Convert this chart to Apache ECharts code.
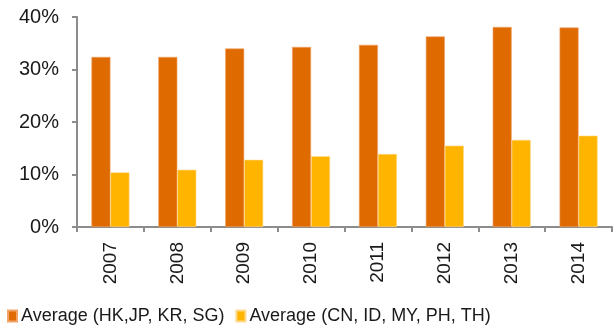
<!DOCTYPE html>
<html>
<head>
<meta charset="utf-8">
<script src="https://cdn.jsdelivr.net/npm/echarts@6/dist/echarts.min.js"></script>
<style>
  html, body { margin: 0; padding: 0; background: #fff; }
  #chart { width: 616px; height: 327px; }
</style>
</head>
<body>
<div id="chart"></div>
<script>
// Years on the category axis
const years = ['2007', '2008', '2009', '2010', '2011', '2012', '2013', '2014'];
// Average share (%) for each country group
const developedAvg = [32.4, 32.4, 34.0, 34.3, 34.7, 36.3, 38.1, 38.0];
const emergingAvg = [10.4, 10.9, 12.8, 13.5, 13.9, 15.5, 16.6, 17.4];
// Series names shown in the legend
const seriesNames = ['Average (HK,JP, KR, SG)', 'Average (CN, ID, MY, PH, TH)'];
// Value axis ticks
const yTicks = { min: 0, max: 40, interval: 10 };

const FONT = '"Liberation Sans", Arial, sans-serif';
const AXIS_GREY = '#8c8c8c';
const TEXT = '#1a1a1a';

const chart = echarts.init(document.getElementById('chart'), null, { renderer: 'canvas' });

chart.setOption({
  animation: false,
  backgroundColor: '#ffffff',
  grid: { left: 77, right: 4, top: 17, bottom: 100, containLabel: false },
  legend: {
    left: 2,
    top: 302,
    itemWidth: 9,
    itemHeight: 11,
    itemGap: 11,
    icon: 'rect',
    textStyle: { fontFamily: FONT, fontSize: 18, color: TEXT, padding: [0, 0, 0, -1] },
    data: seriesNames
  },
  xAxis: {
    type: 'category',
    data: years,
    axisLine: { lineStyle: { color: AXIS_GREY, width: 2 } },
    axisTick: { show: true, length: 5, lineStyle: { color: AXIS_GREY, width: 2 } },
    axisLabel: {
      rotate: 90,
      margin: 15,
      fontFamily: FONT,
      fontSize: 19,
      color: TEXT
    }
  },
  yAxis: {
    type: 'value',
    min: yTicks.min,
    max: yTicks.max,
    interval: yTicks.interval,
    splitLine: { show: false },
    axisLine: { show: true, lineStyle: { color: AXIS_GREY, width: 2 } },
    axisTick: { show: true, length: 5, lineStyle: { color: AXIS_GREY, width: 2 } },
    axisLabel: {
      formatter: '{value}%',
      margin: 18,
      fontFamily: FONT,
      fontSize: 20,
      color: TEXT
    }
  },
  series: [
    {
      name: seriesNames[0],
      type: 'bar',
      data: developedAvg,
      barWidth: 19,
      barGap: '0%',
      itemStyle: { color: '#DE6A00', borderColor: '#F2A56A', borderWidth: 0.6 }
    },
    {
      name: seriesNames[1],
      type: 'bar',
      data: emergingAvg,
      barWidth: 19,
      barGap: '0%',
      itemStyle: { color: '#FFB400', borderColor: '#FFD98A', borderWidth: 0.6 }
    }
  ]
});
</script>
</body>
</html>
